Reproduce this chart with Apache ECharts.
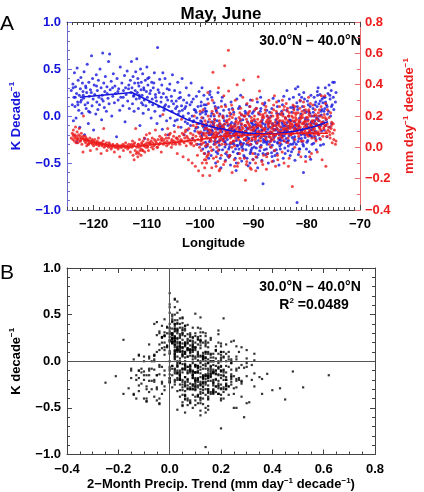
<!DOCTYPE html>
<html><head><meta charset="utf-8">
<script src="https://cdn.jsdelivr.net/npm/echarts@6/dist/echarts.min.js"></script>
<style>html,body{margin:0;padding:0;background:#fff}#c{width:424px;height:492px}</style>
</head><body><div id="c"></div>
<script>
// grid cells: [longitude, K decade^-1 trend, precip trend mm day^-1 decade^-1]
const westCells = [
[-124.2,0.27,0.06],[-124.0,0.12,0.09],[-123.9,0.34,0.05],[-123.8,-0.05,0.11],[-123.7,0.2,0.07],[-123.6,0.46,0.04],[-123.5,0.1,0.08],[-123.4,0.31,0.13],[-123.3,-0.02,0.03],[-123.2,0.24,0.07],[-123.1,0.51,0.1],[-123.15,-0.28,0.05],[-123.0,0.15,0.05],
[-122.9,0.38,0.06],[-122.8,0.06,0.08],[-122.7,0.22,0.12],[-122.6,-0.12,0.04],[-122.5,0.29,0.07],[-122.4,0.41,0.05],[-122.3,0.17,0.09],[-122.2,0.03,0.02],[-122.1,0.35,0.06],[-122.0,0.26,-0.03],
[-121.9,0.19,0.2],[-121.8,0.47,0.05],[-121.7,-0.2,0.04],[-121.6,0.12,0.07],[-121.5,0.32,0.03],[-121.4,0.08,0.06],[-121.3,0.25,0.01],[-121.2,0.55,0.04],[-121.1,0.14,0.05],[-121.0,-0.08,0.02],
[-120.9,0.36,0.04],[-120.8,0.21,0.03],[-120.7,0.04,0.06],[-120.6,0.28,-0.02],[-120.4,0.64,0.03],[-120.3,0.11,0.05],[-120.2,0.4,0.02],[-120.1,0.18,0.04],[-120.0,-0.15,0.01],
[-119.9,0.33,0.03],[-119.8,0.23,0.05],[-119.6,0.02,0.02],[-119.5,0.44,0.03],[-119.4,0.15,-0.01],[-119.3,0.27,0.04],[-119.2,0.07,0.02],[-119.1,0.38,0.06],[-119.0,0.2,0.01],
[-118.9,0.12,0.03],[-118.8,0.5,0.02],[-118.6,0.3,-0.04],[-118.5,-0.04,0.03],[-118.4,0.22,0.01],[-118.3,0.67,0.02],[-118.2,0.16,0.04],[-118.1,0.35,0.12],[-118.0,0.09,0.0],
[-117.9,0.26,0.02],[-117.8,0.42,0.01],[-117.6,0.05,0.03],[-117.5,0.31,-0.02],[-117.3,0.19,0.01],[-117.2,0.58,0.0],[-117.0,0.66,0.02],[-117.1,0.13,0.03],
[-116.9,0.28,0.01],[-116.7,0.37,-0.01],[-116.6,0.0,0.0],[-116.4,0.21,0.02],[-116.3,0.45,0.01],[-116.1,0.14,-0.03],[-116.0,0.32,0.0],
[-115.9,0.24,0.01],[-115.7,-0.22,0.0],[-115.6,0.4,0.02],[-115.4,0.17,-0.01],[-115.3,0.29,0.01],[-115.1,0.06,-0.06],[-115.0,0.52,0.0],
[-114.9,0.2,0.01],[-114.7,0.35,0.0],[-114.5,0.11,0.02],[-114.4,0.27,-0.02],[-114.2,0.43,0.01],[-114.1,-0.06,0.0],[-114.0,0.3,0.03],
[-113.9,0.23,0.0],[-113.7,0.48,0.01],[-113.6,0.16,-0.01],[-113.4,0.33,0.02],[-113.3,0.08,0.0],[-113.1,0.38,-0.03],[-113.0,0.25,0.01],
[-112.9,0.58,0.02],[-112.8,0.3,0.0],[-112.7,0.13,0.04],[-112.6,0.42,-0.05],[-112.5,0.21,0.01],[-112.4,0.05,-0.08],[-112.3,0.35,0.03],[-112.2,0.27,-0.02],[-112.1,0.47,0.12],[-112.0,0.18,-0.04],
[-123.45,0.2,0.06],[-122.45,0.15,0.04],[-121.45,0.3,0.05],[-120.45,0.25,0.03],[-119.45,0.32,0.02],[-118.45,0.18,0.02],[-117.45,0.24,0.01],[-116.45,0.3,0.01],[-115.45,0.26,0.0],[-114.45,0.2,0.01],[-113.45,0.29,0.0],[-112.45,0.22,0.02],[-123.85,0.3,0.08],[-122.95,0.12,0.03],[-121.95,0.22,0.07],[-120.95,0.05,0.02]
];
const centralCells = [
[-111.9,0.61,0.0],[-111.8,0.25,-0.03],[-111.7,0.4,-0.06],[-111.6,0.08,0.02],[-111.5,0.32,-0.04],[-111.4,0.19,0.05],[-111.3,-0.1,-0.02],[-111.2,0.5,0.01],[-111.1,0.28,-0.05],[-111.0,0.14,0.03],[-111.05,0.36,-0.01],
[-110.9,0.22,0.02],[-110.8,0.45,-0.02],[-110.7,0.03,0.04],[-110.6,0.3,0.01],[-110.5,0.17,0.06],[-110.4,-0.24,-0.03],[-110.3,0.38,0.02],[-110.2,0.11,0.0],[-110.1,0.26,0.08],[-110.0,0.52,0.03],
[-109.9,0.2,0.01],[-109.8,0.33,0.05],[-109.7,0.07,-0.02],[-109.6,0.41,0.03],[-109.5,0.15,0.09],[-109.3,0.27,0.02],[-109.2,-0.02,0.04],[-109.1,0.36,0.0],[-109.0,0.18,0.06],
[-108.9,0.12,0.03],[-108.8,0.3,-0.01],[-108.6,0.46,0.05],[-108.5,0.05,0.02],[-108.4,0.23,0.11],[-108.2,0.16,0.03],[-108.0,0.73,0.0],[-108.1,-0.08,0.0],
[-107.9,0.28,0.05],[-107.8,0.1,0.02],[-107.6,0.39,0.07],[-107.5,0.0,0.03],[-107.3,0.2,-0.03],[-107.2,0.33,0.06],[-107.1,-0.14,0.04],[-107.0,0.46,0.21],
[-106.9,0.24,0.02],[-106.8,0.06,0.05],[-106.6,0.4,0.03],[-106.5,0.12,0.08],[-106.3,-0.05,0.01],[-106.2,0.29,0.04],[-106.1,0.17,0.12],[-106.0,-0.2,0.02],
[-105.9,0.1,0.06],[-105.7,0.34,0.03],[-105.6,-0.02,0.09],[-105.4,0.21,0.0],[-105.3,0.05,0.05],[-105.2,0.44,0.02],[-105.0,0.13,0.07],
[-104.9,-0.1,0.04],[-104.8,0.27,0.1],[-104.6,0.08,0.02],[-104.5,0.16,0.06],[-104.3,-0.04,-0.04],[-104.2,0.36,0.05],[-104.1,0.02,0.13],[-104.0,0.19,0.03],
[-103.9,0.05,0.07],[-103.8,0.25,0.02],[-103.6,-0.12,0.05],[-103.5,0.11,0.18],[-103.4,0.4,0.04],[-103.2,0.0,-0.06],[-103.1,0.17,0.08],[-103.0,-0.2,0.03],
[-102.9,0.08,0.06],[-102.8,-0.06,0.1],[-102.6,0.3,0.01],[-102.5,0.14,0.07],[-102.4,-0.15,0.04],[-102.2,0.03,-0.08],[-102.1,0.22,0.12],[-102.0,-0.03,0.05],
[-101.9,0.12,0.03],[-101.8,-0.1,0.09],[-101.7,0.35,0.02],[-101.5,0.0,-0.1],[-101.4,-0.24,0.06],[-101.3,0.18,0.14],[-101.2,-0.05,0.01],[-101.1,0.07,0.2],[-101.0,-0.16,0.04],
[-100.9,0.06,-0.12],[-100.8,-0.13,0.07],[-100.7,0.21,0.02],[-100.6,-0.02,0.15],[-100.5,-0.3,-0.05],[-100.4,0.1,0.05],[-100.3,-0.08,-0.15],[-100.2,0.26,0.09],[-100.1,-0.18,0.0],[-100.0,0.02,0.23],
[-111.45,0.22,0.0],[-111.65,0.35,0.02],[-110.55,0.28,0.01],[-110.75,0.12,-0.02],[-109.45,0.24,0.03],[-109.85,0.4,0.0],[-108.35,0.2,0.04],[-108.7,0.35,0.01],[-107.35,0.15,0.05],[-107.7,0.25,0.02],[-106.35,0.2,0.06],[-106.7,0.1,0.03],[-105.35,0.16,0.04],[-105.8,0.28,0.08],[-104.35,0.1,0.06],[-104.7,-0.05,0.03],[-103.35,0.06,0.09],[-103.7,0.2,0.04],[-102.35,-0.08,0.06],[-102.7,0.1,0.11],[-101.35,-0.06,0.08],[-101.6,0.15,0.03],[-100.45,-0.12,0.1],[-100.75,0.04,0.13]
];
const eastCells = [
[-99.9,-0.05,0.1],[-99.8,0.15,-0.02],[-99.7,-0.22,0.06],[-99.6,0.04,0.14],[-99.5,-0.35,-0.18],[-99.4,-0.1,0.03],[-99.3,0.22,0.08],[-99.2,-0.15,-0.08],[-99.1,0.08,0.17],[-99.0,-0.28,0.01],[-99.45,-0.02,0.24],[-99.65,0.3,0.05],[-99.15,-0.4,-0.13],[-99.85,0.11,0.04],
[-98.9,-0.12,0.07],[-98.8,0.05,-0.1],[-98.7,-0.3,0.12],[-98.6,0.18,0.02],[-98.5,-0.06,0.2],[-98.4,-0.45,-0.04],[-98.3,-0.18,0.09],[-98.2,0.23,-0.18],[-98.1,-0.25,0.05],[-98.0,0.0,0.16],[-98.45,-0.38,0.28],[-98.75,-0.09,-0.06],[-98.15,0.26,0.11],[-98.55,-0.17,0.35],
[-97.9,-0.2,0.04],[-97.8,0.03,0.13],[-97.6,-0.11,0.48],[-97.5,-0.08,-0.07],[-97.4,0.14,0.09],[-97.3,-0.27,0.18],[-97.2,-0.13,0.02],[-97.1,-0.5,0.25],[-97.0,0.07,-0.12],[-97.7,-0.16,0.3],[-97.25,-0.04,0.06],[-97.55,-0.36,0.14],[-97.85,0.2,-0.02],[-97.05,-0.22,0.1],[-97.45,-0.1,0.21],
[-96.9,-0.28,0.08],[-96.8,-0.05,0.22],[-96.7,-0.4,-0.09],[-96.6,0.09,0.13],[-96.5,-0.18,0.03],[-96.4,-0.31,0.17],[-96.3,0.02,-0.14],[-96.2,-0.12,0.11],[-96.1,-0.55,0.06],[-96.0,0.16,0.26],[-96.85,-0.2,0.0],[-96.55,-0.135,0.38],[-96.25,-0.26,0.15],[-96.05,-0.15,-0.05],[-96.65,0.25,0.09],
[-95.9,-0.17,0.12],[-95.8,-0.36,0.05],[-95.7,0.0,0.19],[-95.6,-0.24,-0.11],[-95.5,-0.09,0.08],[-95.4,-0.28,0.52],[-95.3,0.12,0.02],[-95.2,-0.19,0.26],[-95.1,-0.3,0.1],[-95.0,-0.06,-0.03],[-95.85,0.2,0.14],[-95.55,-0.13,0.33],[-95.25,-0.47,0.07],[-95.05,-0.22,0.17],[-95.65,-0.02,0.04],
[-94.9,-0.25,0.09],[-94.8,-0.1,0.15],[-94.7,-0.15,0.62],[-94.6,0.07,-0.06],[-94.5,-0.33,0.12],[-94.4,-0.18,0.2],[-94.3,-0.52,0.03],[-94.2,0.15,0.1],[-94.1,-0.07,0.27],[-94.0,-0.29,-0.16],[-94.85,-0.42,0.07],[-94.55,-0.2,0.18],[-94.25,0.02,0.13],[-94.05,-0.14,0.0],[-94.65,-0.35,0.36],
[-93.9,-0.12,0.11],[-93.8,-0.38,0.04],[-93.7,0.04,0.21],[-93.6,-0.21,-0.08],[-93.5,-0.16,0.14],[-93.4,-0.45,0.3],[-93.3,-0.03,0.06],[-93.2,-0.26,0.17],[-93.1,0.18,0.09],[-93.0,-0.32,-0.12],[-93.85,-0.19,0.24],[-93.55,-0.08,0.01],[-93.25,-0.58,0.12],[-93.05,-0.31,0.4],[-93.65,-0.3,0.08],
[-92.9,-0.23,0.13],[-92.8,0.08,0.05],[-92.7,-0.35,0.19],[-92.6,-0.14,-0.04],[-92.5,-0.27,0.1],[-92.4,0.22,0.25],[-92.3,-0.09,0.02],[-92.2,-0.48,0.15],[-92.1,-0.2,0.07],[-92.0,-0.04,0.32],[-92.85,-0.4,-0.1],[-92.55,-0.17,0.22],[-92.25,0.01,0.11],[-92.05,-0.31,-0.02],[-92.65,-0.12,0.16],
[-91.9,-0.18,0.09],[-91.8,-0.42,0.2],[-91.7,0.0,-0.07],[-91.6,-0.25,0.14],[-91.5,-0.16,-0.21],[-91.4,-0.36,0.06],[-91.3,0.12,0.18],[-91.2,-0.22,0.28],[-91.1,-0.06,0.03],[-91.0,-0.53,0.12],[-91.85,-0.29,0.43],[-91.55,0.05,0.1],[-91.25,-0.3,-0.09],[-91.05,-0.2,0.21],[-91.65,-0.44,0.05],
[-90.9,-0.13,0.15],[-90.8,-0.31,0.04],[-90.7,0.1,0.23],[-90.6,-0.2,-0.13],[-90.5,-0.38,0.11],[-90.4,-0.07,0.19],[-90.3,-0.26,0.06],[-90.2,0.03,0.3],[-90.1,-0.46,-0.04],[-90.0,-0.16,0.13],[-90.85,-0.24,0.08],[-90.55,0.17,0.02],[-90.25,-0.34,0.17],[-90.05,-0.1,-0.08],[-90.65,-0.5,0.26],
[-89.9,-0.22,0.12],[-89.8,-0.05,0.2],[-89.7,-0.4,0.07],[-89.6,-0.15,-0.1],[-89.5,0.08,0.16],[-89.4,-0.29,0.25],[-89.3,-0.12,0.03],[-89.2,-0.55,0.14],[-89.1,-0.41,0.45],[-89.0,0.02,0.09],[-89.85,-0.33,0.18],[-89.55,-0.18,-0.15],[-89.25,0.15,0.1],[-89.05,-0.26,0.22],[-89.65,-0.09,0.05],[-89.35,-0.44,0.31],
[-88.9,-0.16,0.14],[-88.8,-0.37,0.06],[-88.7,0.05,0.21],[-88.6,-0.23,0.0],[-88.5,-0.11,0.17],[-88.4,-0.47,0.1],[-88.3,-0.04,0.28],[-88.2,-0.72,0.2],[-88.1,-0.28,-0.05],[-88.0,0.12,0.08],[-88.85,-0.19,0.36],[-88.55,-0.31,0.13],[-88.25,-0.08,-0.11],[-88.05,-0.21,0.19],[-88.65,0.2,0.04],
[-87.9,-0.26,0.11],[-87.8,-0.09,0.24],[-87.7,-0.41,0.06],[-87.6,-0.17,0.16],[-87.5,0.06,-0.06],[-87.4,-0.3,0.2],[-87.3,-0.14,0.09],[-87.2,-0.5,0.14],[-87.1,-0.02,0.3],[-87.0,-0.22,0.02],[-87.85,0.14,0.12],[-87.55,-0.35,-0.14],[-87.25,-0.19,0.18],[-87.05,-0.06,0.07],[-87.65,-0.28,0.26],
[-86.9,-0.12,0.1],[-86.8,-0.33,0.17],[-86.7,0.0,0.04],[-86.6,-0.25,0.22],[-86.5,-0.43,-0.09],[-86.4,-0.08,0.13],[-86.3,0.19,0.07],[-86.2,-0.2,0.27],[-86.1,-0.37,0.11],[-86.0,-0.15,-0.02],[-86.85,-0.27,0.19],[-86.55,0.08,0.15],[-86.25,-0.48,0.05],[-86.05,-0.27,0.33],[-86.65,-0.18,0.0],
[-85.9,-0.21,0.16],[-85.8,-0.04,0.08],[-85.7,-0.36,0.23],[-85.6,-0.13,0.12],[-85.5,0.1,-0.05],[-85.4,-0.29,0.19],[-85.3,-0.17,0.06],[-85.2,-0.52,0.15],[-85.1,0.02,0.26],[-85.0,-0.24,0.1],[-85.85,-0.1,-0.12],[-85.55,-0.4,0.2],[-85.25,0.16,0.14],[-85.05,-0.32,0.03],[-85.65,-0.07,0.29],
[-84.9,-0.15,0.13],[-84.8,-0.3,0.21],[-84.7,0.05,0.09],[-84.6,-0.22,-0.03],[-84.5,-0.09,0.17],[-84.4,-0.45,0.11],[-84.3,0.21,0.24],[-84.2,-0.18,0.04],[-84.1,-0.34,0.15],[-84.0,-0.02,0.19],[-84.85,-0.26,0.07],[-84.55,0.12,0.3],[-84.25,-0.11,-0.1],[-84.05,-0.4,0.12],[-84.65,-0.2,0.22],
[-83.9,-0.1,0.18],[-83.8,-0.28,0.1],[-83.7,0.27,0.14],[-83.6,-0.16,0.25],[-83.5,-0.37,0.06],[-83.4,0.0,0.2],[-83.3,-0.21,-0.07],[-83.2,-0.05,0.16],[-83.1,-0.42,0.12],[-83.0,0.09,0.08],[-83.85,-0.24,0.28],[-83.55,-0.13,0.03],[-83.25,0.18,0.22],[-83.05,-0.3,0.15],[-83.65,-0.07,0.11],
[-82.9,-0.19,0.13],[-82.8,0.04,0.2],[-82.7,-0.23,-0.25],[-82.6,-0.12,0.17],[-82.5,0.2,0.09],[-82.4,-0.25,0.24],[-82.3,-0.06,0.12],[-82.2,-0.47,0.05],[-82.1,0.29,0.19],[-82.0,-0.15,0.15],[-82.85,-0.38,0.1],[-82.55,0.1,0.27],[-82.25,-0.22,0.0],[-82.05,-0.09,0.21],[-82.65,-0.3,0.14],
[-81.9,-0.14,0.18],[-81.8,-0.92,0.14],[-81.7,0.07,0.11],[-81.6,-0.27,0.22],[-81.5,-0.1,0.07],[-81.4,0.23,0.16],[-81.3,-0.35,0.25],[-81.2,-0.18,0.13],[-81.1,0.02,-0.06],[-81.0,-0.24,0.19],[-81.85,0.14,0.1],[-81.55,-0.41,0.15],[-81.25,-0.06,0.3],[-81.05,-0.2,0.04],[-81.65,0.31,0.12],
[-80.9,-0.16,0.15],[-80.8,0.1,0.21],[-80.7,-0.3,0.09],[-80.6,-0.6,0.29],[-80.5,-0.08,0.26],[-80.4,0.18,0.11],[-80.3,-0.23,0.17],[-80.2,-0.43,-0.09],[-80.1,0.04,0.14],[-80.0,-0.12,0.08],[-80.85,-0.27,0.23],[-80.55,0.25,0.16],[-80.25,-0.04,0.1],[-80.05,-0.35,0.19],[-80.65,-0.19,0.04],
[-79.9,-0.09,0.12],[-79.8,-0.26,0.19],[-79.7,0.12,0.07],[-79.6,-0.17,0.24],[-79.5,-0.38,0.15],[-79.4,0.03,0.1],[-79.3,-0.21,0.28],[-79.2,0.22,0.14],[-79.1,-0.06,-0.04],[-79.0,-0.3,0.17],[-79.85,0.16,0.09],[-79.55,-0.12,0.21],[-79.25,-0.46,0.13],[-79.05,0.0,0.06],[-79.65,-0.2,0.32],
[-78.9,-0.14,0.16],[-78.8,0.08,0.11],[-78.7,-0.29,0.2],[-78.6,0.2,0.13],[-78.5,-0.05,0.06],[-78.4,-0.22,0.24],[-78.3,0.15,0.15],[-78.2,-0.36,0.09],[-78.1,-0.1,0.18],[-78.0,0.26,-0.03],[-78.85,-0.18,0.27],[-78.55,0.0,0.12],[-78.25,-0.25,0.04],[-78.05,0.1,0.2],
[-77.9,-0.03,0.14],[-77.8,-0.2,0.22],[-77.7,0.13,0.08],[-77.6,-0.12,0.17],[-77.5,0.23,0.12],[-77.4,-0.31,0.05],[-77.3,0.05,0.26],[-77.2,-0.16,0.15],[-77.1,0.18,-0.08],[-77.0,-0.08,0.19],[-77.85,0.3,0.1],[-77.55,-0.24,0.13],[-77.25,0.01,0.33],
[-76.9,-0.06,0.16],[-76.8,0.2,0.12],[-76.7,-0.15,0.21],[-76.6,0.08,0.33],[-76.5,0.3,0.14],[-76.4,-0.1,-0.12],[-76.3,0.12,0.18],[-76.2,-0.22,0.07],[-76.1,0.02,0.24],[-76.0,0.24,0.11],[-76.85,-0.3,0.15],[-76.45,0.15,0.28],
[-75.9,0.05,0.13],[-75.8,0.33,0.19],[-75.7,-0.12,0.1],[-75.6,0.18,0.06],[-75.5,0.0,0.22],[-75.4,0.27,0.12],[-75.3,-0.08,0.16],[-75.2,0.12,0.03],[-75.1,0.36,0.09],[-75.0,0.2,0.15],[-74.9,0.07,0.05],[-74.8,0.36,0.11],[-74.6,0.15,0.02],[-74.5,0.25,0.04]
];
const eastCellsB = [
[-99.35,-0.12,0.09],[-99.75,-0.25,0.02],[-99.05,0.05,0.12],[-99.55,-0.18,0.15],[-99.95,-0.3,0.07],[-99.25,0.12,-0.04],[-99.7,-0.06,0.19],
[-98.35,-0.2,0.11],[-98.65,-0.32,0.06],[-98.95,0.02,0.15],[-98.05,-0.1,0.0],[-98.25,-0.27,0.18],[-98.85,0.12,0.09],[-98.6,-0.15,-0.05],
[-97.15,-0.24,0.12],[-97.35,0.0,0.16],[-97.65,-0.19,0.07],[-97.95,-0.42,0.1],[-97.75,-0.06,0.23],[-97.18,0.1,0.04],[-97.4,-0.3,0.08],
[-96.15,-0.21,0.1],[-96.35,-0.08,0.05],[-96.45,-0.36,0.2],[-96.75,-0.14,0.14],[-96.95,0.05,0.07],[-96.6,-0.27,-0.02],[-96.2,-0.45,0.12],
[-95.15,-0.16,0.09],[-95.35,-0.33,0.15],[-95.45,-0.05,0.11],[-95.75,-0.25,0.2],[-95.95,-0.11,0.02],[-95.6,0.06,0.13],[-95.2,-0.4,0.06],
[-94.15,-0.22,0.14],[-94.35,-0.09,0.06],[-94.45,-0.3,0.22],[-94.75,-0.18,0.1],[-94.95,0.0,0.17],[-94.6,-0.44,0.08],[-94.2,-0.13,0.03],
[-93.15,-0.2,0.1],[-93.35,-0.35,0.16],[-93.45,-0.1,0.08],[-93.75,-0.27,0.13],[-93.95,0.08,0.19],[-93.6,-0.15,0.04],[-93.2,-0.5,0.09],
[-92.15,-0.17,0.13],[-92.35,-0.29,0.07],[-92.45,-0.05,0.18],[-92.75,-0.22,0.11],[-92.95,-0.4,0.15],[-92.6,0.1,0.09],[-92.2,-0.33,0.21],
[-91.15,-0.14,0.16],[-91.35,-0.26,0.1],[-91.45,0.03,0.14],[-91.75,-0.2,0.05],[-91.95,-0.35,0.12],[-91.6,-0.1,0.2],[-91.2,-0.45,0.08],
[-90.15,-0.19,0.11],[-90.35,-0.12,0.17],[-90.45,-0.3,0.09],[-90.75,0.0,0.14],[-90.95,-0.24,0.22],[-90.6,-0.4,0.13],[-90.2,-0.08,0.05],
[-89.15,-0.21,0.15],[-89.35,-0.1,0.08],[-89.45,-0.34,0.13],[-89.75,-0.16,0.24],[-89.95,0.05,0.11],[-89.6,-0.27,0.06],[-89.2,-0.13,0.18],
[-88.15,-0.25,0.12],[-88.35,-0.15,0.19],[-88.45,-0.06,0.07],[-88.75,-0.33,0.16],[-88.95,-0.2,0.1],[-88.6,0.08,0.14],[-88.2,-0.4,0.21],
[-87.15,-0.18,0.13],[-87.35,-0.27,0.09],[-87.45,0.0,0.17],[-87.75,-0.12,0.22],[-87.95,-0.36,0.11],[-87.6,-0.22,0.05],[-87.2,-0.08,0.15],
[-86.15,-0.23,0.14],[-86.35,-0.1,0.2],[-86.45,-0.31,0.1],[-86.75,-0.17,0.06],[-86.95,0.04,0.16],[-86.6,-0.39,0.12],[-86.2,-0.14,0.24],
[-85.15,-0.2,0.17],[-85.35,-0.07,0.11],[-85.45,-0.28,0.21],[-85.75,-0.15,0.14],[-85.95,-0.42,0.08],[-85.6,0.03,0.18],[-85.2,-0.25,0.09],
[-84.15,-0.16,0.16],[-84.35,-0.26,0.12],[-84.45,0.02,0.2],[-84.75,-0.12,0.1],[-84.95,-0.35,0.17],[-84.6,-0.07,0.06],[-84.2,-0.21,0.26],
[-83.15,-0.19,0.14],[-83.35,-0.11,0.2],[-83.45,-0.32,0.17],[-83.75,0.06,0.12],[-83.95,-0.15,0.09],[-83.6,-0.27,0.23],[-83.2,-0.04,0.13],
[-82.15,-0.13,0.17],[-82.35,-0.28,0.11],[-82.45,0.08,0.22],[-82.75,-0.18,0.15],[-82.95,-0.05,0.08],[-82.6,-0.35,0.19],[-82.2,-0.1,0.26],
[-81.15,-0.15,0.2],[-81.35,-0.02,0.12],[-81.45,-0.24,0.17],[-81.75,0.1,0.14],[-81.95,-0.3,0.22],[-81.6,-0.11,0.09],[-81.2,0.16,0.18],
[-80.15,-0.1,0.16],[-80.35,-0.2,0.22],[-80.45,0.06,0.13],[-80.75,-0.14,0.19],[-80.95,0.2,0.1],[-80.6,-0.32,0.15],[-80.2,-0.02,0.24],
[-79.15,-0.08,0.14],[-79.35,0.1,0.2],[-79.45,-0.18,0.11],[-79.75,-0.04,0.17],[-79.95,-0.28,0.13],[-79.6,0.05,0.23],[-79.2,-0.15,0.09],
[-78.15,-0.02,0.15],[-78.35,-0.16,0.21],[-78.45,0.12,0.1],[-78.75,0.04,0.17],[-78.95,-0.22,0.13],[-78.6,-0.08,0.08],
[-77.15,0.07,0.16],[-77.35,-0.1,0.11],[-77.45,0.16,0.2],[-77.75,-0.05,0.14],[-77.95,0.22,0.09],[-77.6,0.0,0.24],
[-76.15,0.1,0.15],[-76.35,-0.04,0.1],[-76.55,0.2,0.19],[-76.75,0.05,0.13],[-76.95,0.14,0.07],[-75.35,0.1,0.14],[-75.65,0.22,0.08],
[-99.62,-0.2,-0.1],[-98.92,-0.33,-0.08],[-97.82,-0.15,-0.13],[-96.97,-0.38,-0.06],[-96.42,-0.1,-0.15],[-95.32,-0.27,-0.09],[-94.42,-0.42,-0.05],[-93.52,-0.18,-0.12],[-92.52,-0.3,-0.07],[-91.32,-0.12,-0.11],[-90.42,-0.36,-0.14],[-89.52,-0.22,-0.06],[-88.42,-0.15,-0.09],[-87.32,-0.4,-0.04],[-85.42,-0.08,-0.08],[-83.42,-0.26,-0.12],[-81.42,-0.35,-0.03],[-79.42,-0.2,-0.06]
];
// smoothed curves
const kLineLon = [-122.6,-112.8,-102.4,-98.3,-94,-90,-86,-82,-79,-76];
const kLine = [0.2,0.25,-0.04,-0.11,-0.16,-0.19,-0.19,-0.16,-0.12,-0.06];
const pLineLon = [-122.6,-120,-117,-112.8,-108,-104,-100,-96,-90,-85,-80,-76];
const pLine = [0.06,0.035,0.012,0.005,0.02,0.035,0.05,0.07,0.08,0.085,0.09,0.09];
// tick labels
const lonTicks = [-120,-110,-100,-90,-80,-70];
const regionLabel = '30.0°N – 40.0°N';
const r2Label = '0.0489';

const cells = westCells.concat(centralCells, eastCells, eastCellsB);
const FONT = 'Liberation Sans, Arial, Helvetica, sans-serif';
const BLUE = '#1414dc', RED = '#ec1c1c';
const neg = v => String(v).replace('-', '\u2212');
const fmt1 = v => neg((Math.round(v * 10) / 10).toFixed(1));

function line(color, show) { return { show: show !== false, onZero: false, lineStyle: { color: color, width: 1 } }; }
function tick(color, len) { return { show: true, inside: true, length: len, lineStyle: { color: color, width: 1 } }; }
function lab(color) { return { fontFamily: FONT, fontWeight: 'bold', fontSize: 13, color: color }; }
function rich(color) {
  return {
    b: { fontFamily: FONT, fontWeight: 'bold', fontSize: 13, color: color, lineHeight: 16 },
    s: { fontFamily: FONT, fontWeight: 'bold', fontSize: 8, color: color, verticalAlign: 'top', lineHeight: 16 }
  };
}

const chart = echarts.init(document.getElementById('c'), null, { renderer: 'canvas' });
chart.setOption({
  animation: false,
  backgroundColor: '#fff',
  title: { text: 'May, June', left: 216, textAlign: 'center', top: 1,
    textStyle: { fontFamily: FONT, fontWeight: 'bold', fontSize: 17, color: '#000' } },
  grid: [
    { left: 58, top: 22, width: 317, height: 188 },
    { left: 58, top: 268, width: 317, height: 188 }
  ],
  xAxis: [
    { gridIndex: 0, type: 'value', min: -125, max: -70, interval: 5, position: 'bottom',
      axisLine: line('#444'),
      axisTick: Object.assign(tick('#444', 5), { customValues: lonTicks }),
      axisLabel: Object.assign(lab('#000'), { customValues: lonTicks, margin: 8, formatter: neg }),
      splitLine: { show: false },
      name: 'Longitude', nameLocation: 'middle', nameGap: 27,
      nameTextStyle: { fontFamily: FONT, fontWeight: 'bold', fontSize: 13, color: '#000' } },
    { gridIndex: 0, type: 'value', min: -125, max: -70, interval: 1, position: 'bottom',
      axisLine: line('#444', false), axisTick: tick('#444', 3), axisLabel: { show: false }, splitLine: { show: false } },
    { gridIndex: 0, type: 'value', min: -125, max: -70, interval: 5, position: 'top',
      axisLine: line('#444'),
      axisTick: Object.assign(tick('#444', 5), { customValues: lonTicks }),
      axisLabel: { show: false }, splitLine: { show: false } },
    { gridIndex: 0, type: 'value', min: -125, max: -70, interval: 1, position: 'top',
      axisLine: line('#444', false), axisTick: tick('#444', 3), axisLabel: { show: false }, splitLine: { show: false } },
    { gridIndex: 1, type: 'value', min: -0.4, max: 0.8, interval: 0.2, position: 'bottom',
      axisLine: line('#444'),
      axisTick: tick('#444', 5),
      minorTick: { show: true, splitNumber: 4, length: 3, lineStyle: { color: '#444' } },
      axisLabel: Object.assign(lab('#000'), { margin: 8, formatter: fmt1 }),
      splitLine: { show: false },
      name: '{b|2\u2212Month Precip. Trend (mm day}{s|\u22121}{b| decade}{s|\u22121}{b|)}',
      nameLocation: 'middle', nameGap: 22, nameTextStyle: { rich: rich('#000') } },
    { gridIndex: 1, type: 'value', min: -0.4, max: 0.8, interval: 0.2, position: 'top',
      axisLine: line('#444'),
      axisTick: tick('#444', 5),
      minorTick: { show: true, splitNumber: 4, length: 3, lineStyle: { color: '#444' } },
      axisLabel: { show: false }, splitLine: { show: false } }
  ],
  yAxis: [
    { gridIndex: 0, type: 'value', min: -1, max: 1, interval: 0.5, position: 'left',
      axisLine: line('#6a6ad0'),
      axisTick: tick('#6a6ad0', 5),
      minorTick: { show: true, splitNumber: 5, length: 3, lineStyle: { color: '#6a6ad0' } },
      axisLabel: Object.assign(lab(BLUE), { margin: 6, formatter: fmt1 }),
      splitLine: { show: false },
      name: '{b|K Decade}{s|\u22121}', nameLocation: 'middle', nameRotate: 90, nameGap: 43,
      nameTextStyle: { rich: rich(BLUE) } },
    { gridIndex: 0, type: 'value', min: -0.4, max: 0.8, interval: 0.2, position: 'right',
      axisLine: line('#e86a6a'),
      axisTick: tick('#e86a6a', 5),
      minorTick: { show: true, splitNumber: 2, length: 3, lineStyle: { color: '#e86a6a' } },
      axisLabel: Object.assign(lab(RED), { margin: 5, formatter: fmt1 }),
      splitLine: { show: false },
      name: '{b|mm day}{s|\u22121}{b| decade}{s|\u22121}', nameLocation: 'middle', nameRotate: 90, nameGap: 41,
      nameTextStyle: { rich: rich(RED) } },
    { gridIndex: 1, type: 'value', min: -1, max: 1, interval: 0.5, position: 'left',
      axisLine: line('#444'),
      axisTick: tick('#444', 5),
      minorTick: { show: true, splitNumber: 5, length: 3, lineStyle: { color: '#444' } },
      axisLabel: Object.assign(lab('#000'), { margin: 6, formatter: fmt1 }),
      splitLine: { show: false },
      name: '{b|K decade}{s|\u22121}', nameLocation: 'middle', nameRotate: 90, nameGap: 43,
      nameTextStyle: { rich: rich('#000') } },
    { gridIndex: 1, type: 'value', min: -1, max: 1, interval: 0.5, position: 'right',
      axisLine: line('#444'),
      axisTick: tick('#444', 5),
      minorTick: { show: true, splitNumber: 5, length: 3, lineStyle: { color: '#444' } },
      axisLabel: { show: false }, splitLine: { show: false } }
  ],
  series: [
    { type: 'scatter', xAxisIndex: 0, yAxisIndex: 0, symbol: 'circle', symbolSize: 3, silent: true,
      itemStyle: { color: BLUE }, data: cells.map(c => [c[0], c[1]]), z: 2 },
    { type: 'scatter', xAxisIndex: 0, yAxisIndex: 1, symbol: 'circle', symbolSize: 3, silent: true,
      itemStyle: { color: RED }, data: cells.map(c => [c[0], c[2]]), z: 3 },
    { type: 'line', xAxisIndex: 0, yAxisIndex: 0, symbol: 'none', silent: true,
      lineStyle: { color: BLUE, width: 1.6 }, data: kLineLon.map((x, i) => [x, kLine[i]]), z: 4 },
    { type: 'line', xAxisIndex: 0, yAxisIndex: 1, symbol: 'none', silent: true,
      lineStyle: { color: RED, width: 1.6 }, data: pLineLon.map((x, i) => [x, pLine[i]]), z: 5 },
    { type: 'scatter', xAxisIndex: 4, yAxisIndex: 2, symbol: 'rect', symbolSize: 2.2, silent: true,
      itemStyle: { color: '#000' }, data: cells.map(c => [c[2], c[1]]),
      markLine: { silent: true, symbol: 'none', label: { show: false },
        lineStyle: { color: '#555', width: 1, type: 'solid' },
        data: [{ xAxis: 0 }, { yAxis: 0 }] } }
  ],
  graphic: [
    { type: 'text', left: 0, top: 14, style: { text: 'A', fontFamily: FONT, fontSize: 21, fill: '#000' } },
    { type: 'text', left: 0, top: 263, style: { text: 'B', fontFamily: FONT, fontSize: 21, fill: '#000' } },
    { type: 'text', x: 310, y: 41, style: { text: regionLabel, align: 'center', verticalAlign: 'middle',
      fontFamily: FONT, fontWeight: 'bold', fontSize: 14, fill: '#000' } },
    { type: 'text', x: 310, y: 287, style: { text: regionLabel, align: 'center', verticalAlign: 'middle',
      fontFamily: FONT, fontWeight: 'bold', fontSize: 14, fill: '#000' } },
    { type: 'text', x: 314, y: 305, style: { text: '{b|R}{s|2}{b| =' + r2Label + '}', align: 'center', verticalAlign: 'middle',
      rich: { b: { fontFamily: FONT, fontWeight: 'bold', fontSize: 14, fill: '#000', lineHeight: 16 },
              s: { fontFamily: FONT, fontWeight: 'bold', fontSize: 8, fill: '#000', verticalAlign: 'top', lineHeight: 16 } } } }
  ]
});
</script>
</body></html>
